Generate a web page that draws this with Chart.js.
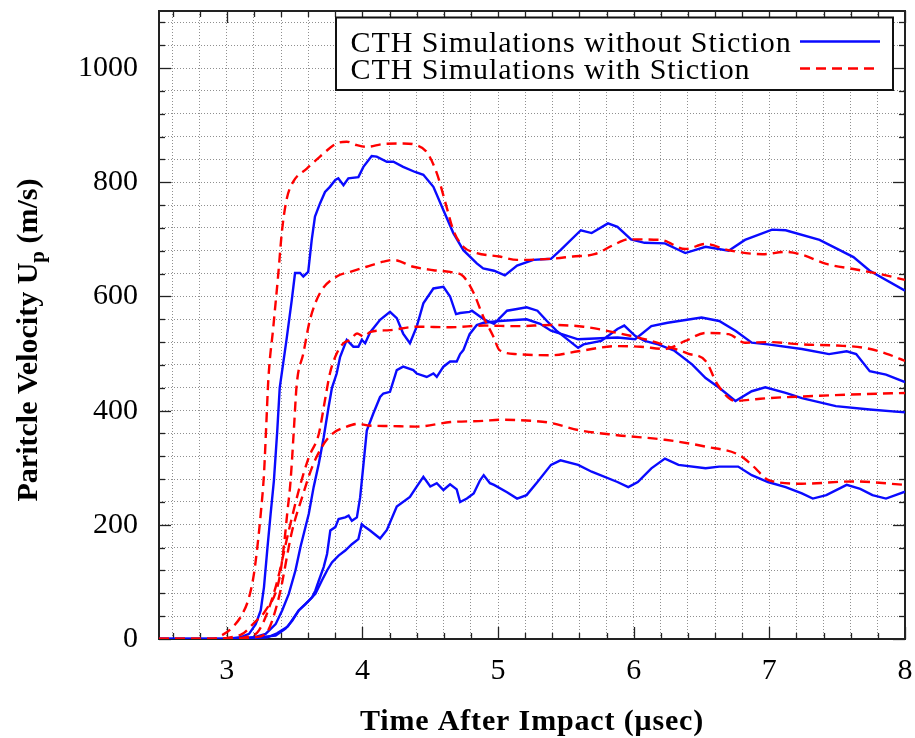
<!DOCTYPE html>
<html>
<head>
<meta charset="utf-8">
<title>Particle velocity after impact</title>
<script src="https://cdn.jsdelivr.net/npm/chart.js@4.4.1/dist/chart.umd.min.js"></script>
<style>
  html, body { margin: 0; padding: 0; background: #fff; }
  #wrap { position: relative; width: 915px; height: 738px; }
</style>
</head>
<body>
<div id="wrap"><canvas id="chart"></canvas></div>
<script>
// [time (usec), particle velocity (m/s)]
var withStiction1 = [[2.5,0],[2.9,0],[2.96,6],[3.04,20],[3.115,44],[3.164,73],[3.2,114],[3.225,161],[3.25,219],[3.274,289],
  [3.29,370],[3.306,454],[3.343,547],[3.38,641],[3.405,711],[3.44,769],[3.49,801],[3.59,824],[3.687,845],[3.81,868],
  [3.884,871],[3.96,865],[4.03,862],[4.154,867],[4.3,868],[4.4,865],[4.474,853],[4.548,816],[4.62,757],[4.67,716],
  [4.744,687],[4.843,676],[5.01,670],[5.14,664],[5.39,666],[5.55,670],[5.71,674],[5.85,690],[5.96,700],[6.2,699],
  [6.38,683],[6.53,692],[6.7,681],[6.95,674],[7.12,678],[7.24,673],[7.42,657],[7.62,648],[7.8,640],[8.0,629]];
var withStiction2 = [[2.5,0],[2.95,0],[3.0,2],[3.115,9],[3.2,28],[3.286,50],[3.384,102],[3.42,161],[3.445,219],[3.47,277],
  [3.494,365],[3.515,445],[3.564,500],[3.613,559],[3.687,606],[3.81,635],[3.91,643],[4.03,652],[4.154,661],[4.228,664],
  [4.375,652],[4.523,646],[4.646,643],[4.744,635],[4.82,606],[4.89,565],[4.965,530],[5.01,506],[5.14,499],[5.39,497],
  [5.59,504],[5.88,513],[6.05,512],[6.23,508],[6.38,522],[6.53,536],[6.7,534],[6.82,519],[7.0,520],[7.24,516],
  [7.5,514],[7.7,510],[7.86,500],[8.0,487]];
var withStiction3 = [[2.5,0],[3.0,0],[3.15,4],[3.237,15],[3.36,91],[3.457,190],[3.53,260],[3.604,318],[3.678,359],[3.727,423],
  [3.76,465],[3.81,500],[3.86,518],[3.91,524],[3.96,535],[4.01,530],[4.06,538],[4.2,541],[4.4,547],[4.65,546],
  [4.9,549],[5.14,548],[5.39,550],[5.63,547],[5.88,536],[6.13,522],[6.28,510],[6.4,500],[6.53,487],[6.62,445],
  [6.75,417],[6.9,420],[7.0,422],[7.37,426],[7.7,429],[8.0,431]];
var withStiction4 = [[2.5,0],[3.0,0],[3.2,3],[3.286,9],[3.384,73],[3.482,190],[3.555,248],[3.629,301],[3.7,336],[3.775,359],
  [3.873,371],[3.97,377],[4.04,374],[4.2,373],[4.4,372],[4.65,380],[4.89,382],[5.01,384],[5.26,382],[5.4,378],
  [5.59,366],[5.88,357],[6.23,349],[6.53,337],[6.78,322],[6.87,305],[7.0,278],[7.24,272],[7.62,276],[8.0,270]];

var noStiction1 = [[2.5,0],[3.0,0],[3.1,3],[3.164,9],[3.213,26],[3.25,50],[3.274,91],[3.3,161],[3.323,219],[3.347,277],
  [3.372,365],[3.39,440],[3.44,524],[3.479,594],[3.503,641],[3.54,641],[3.564,635],[3.6,643],[3.626,699],[3.65,740],
  [3.687,763],[3.724,783],[3.76,792],[3.8,804],[3.822,807],[3.86,795],[3.896,807],[3.97,809],[4.007,827],[4.068,846],
  [4.105,845],[4.18,836],[4.228,836],[4.3,827],[4.388,818],[4.449,813],[4.523,792],[4.597,751],[4.67,711],[4.744,681],
  [4.843,658],[4.89,649],[4.97,645],[5.05,637],[5.14,654],[5.26,664],[5.39,666],[5.46,681],[5.61,716],[5.69,711],
  [5.81,728],[5.88,722],[5.98,700],[6.08,694],[6.23,693],[6.38,676],[6.53,687],[6.7,680],[6.82,699],[7.02,717],
  [7.12,716],[7.37,699],[7.62,669],[7.74,645],[8.0,610]];
var noStiction2 = [[2.5,0],[3.0,0],[3.2,3],[3.286,9],[3.36,26],[3.408,50],[3.457,79],[3.506,120],[3.543,161],[3.567,184],
  [3.604,219],[3.64,266],[3.678,307],[3.714,353],[3.75,406],[3.775,440],[3.81,465],[3.835,494],[3.884,524],[3.933,512],
  [3.97,512],[3.995,524],[4.02,518],[4.056,537],[4.13,559],[4.203,573],[4.253,562],[4.3,535],[4.35,518],[4.4,547],
  [4.449,588],[4.523,614],[4.597,617],[4.646,600],[4.69,569],[4.72,571],[4.79,573],[4.807,575],[4.894,560],[4.97,552],
  [5.066,575],[5.14,578],[5.21,581],[5.29,575],[5.36,557],[5.43,540],[5.59,510],[5.63,516],[5.76,522],[5.88,543],
  [5.93,549],[6.01,531],[6.08,522],[6.18,516],[6.3,505],[6.43,481],[6.53,457],[6.63,440],[6.75,417],[6.87,434],
  [6.97,441],[7.12,431],[7.24,422],[7.49,408],[7.74,402],[8.0,397]];
var noStiction3 = [[2.5,0],[3.1,0],[3.36,6],[3.433,18],[3.482,32],[3.53,50],[3.58,61],[3.629,73],[3.653,85],[3.678,102],
  [3.714,126],[3.739,149],[3.763,190],[3.8,196],[3.824,210],[3.873,213],[3.898,216],[3.922,207],[3.959,213],[3.983,248],
  [4.008,307],[4.032,365],[4.08,395],[4.13,424],[4.154,430],[4.203,433],[4.253,471],[4.3,477],[4.375,471],[4.4,465],
  [4.474,459],[4.523,465],[4.548,459],[4.597,477],[4.646,486],[4.695,486],[4.72,499],[4.744,506],[4.79,534],[4.843,550],
  [4.894,554],[5.01,557],[5.21,560],[5.31,552],[5.39,540],[5.59,525],[5.88,528],[6.01,525],[6.13,548],[6.25,554],
  [6.5,563],[6.63,557],[6.75,540],[6.87,519],[6.99,516],[7.24,508],[7.44,499],[7.57,504],[7.64,499],[7.74,469],
  [7.86,463],[8.0,450]];
var noStiction4 = [[2.5,0],[3.1,0],[3.3,3],[3.37,10],[3.45,22],[3.53,50],[3.604,67],[3.653,79],[3.7,102],[3.739,120],
  [3.775,134],[3.824,146],[3.873,155],[3.922,166],[3.97,175],[3.995,201],[4.02,196],[4.056,190],[4.13,176],[4.18,191],
  [4.253,232],[4.35,249],[4.4,267],[4.449,284],[4.5,267],[4.548,273],[4.597,261],[4.646,271],[4.695,262],[4.72,240],
  [4.77,246],[4.82,255],[4.867,278],[4.894,287],[4.94,273],[4.97,270],[5.066,257],[5.14,246],[5.21,252],[5.29,275],
  [5.39,305],[5.46,313],[5.59,305],[5.69,293],[5.88,275],[5.96,266],[6.03,275],[6.13,299],[6.23,316],[6.33,305],
  [6.53,299],[6.63,302],[6.77,302],[6.87,287],[6.99,275],[7.12,266],[7.24,255],[7.32,246],[7.42,252],[7.57,270],
  [7.67,263],[7.76,252],[7.86,246],[8.0,258]];

var seriesLabels = ["CTH Simulations without Stiction", "CTH Simulations with Stiction"];
var xTickLabels = [3, 4, 5, 6, 7, 8];
var yTickLabels = [0, 200, 400, 600, 800, 1000];
var xRange = [2.5, 8], yRange = [0, 1100];
var xMinorStep = 0.2, yMinorStep = 40;

var BLUE = "#0a0aff", RED = "#ff0000";
var SERIF = '"Liberation Serif", "Times New Roman", serif';

function pts(arr) {
  return arr.map(function (p) { return { x: p[0], y: p[1] }; });
}

// minor grid positions (every 0.2 us, every 40 m/s)
var xGrid = [], yGrid = [];
for (var i = Math.ceil(xRange[0] / xMinorStep + 0.01); i * xMinorStep <= xRange[1] + 1e-9; i++) {
  xGrid.push(+(i * xMinorStep).toFixed(1));
}
for (var j = 0; j * yMinorStep < yRange[1]; j++) yGrid.push(j * yMinorStep);

function redSet(arr) {
  return {
    data: pts(arr), borderColor: RED, borderWidth: 2.4, borderDash: [10, 6],
    pointRadius: 0, cubicInterpolationMode: "monotone", fill: false
  };
}
function blueSet(arr) {
  return {
    data: pts(arr), borderColor: BLUE, borderWidth: 2.4,
    pointRadius: 0, tension: 0, fill: false
  };
}

// frame plus gnuplot style inward ticks on all four sides
var framePlugin = {
  id: "frame",
  beforeDatasetsDraw: function (chart) {
    var ctx = chart.ctx, a = chart.chartArea, xs = chart.scales.x, ys = chart.scales.y;
    function seg(x1, y1, x2, y2) { ctx.beginPath(); ctx.moveTo(x1, y1); ctx.lineTo(x2, y2); ctx.stroke(); }
    ctx.save();
    ctx.strokeStyle = "#222";
    ctx.lineWidth = 1.3;
    xs.ticks.forEach(function (t) {
      var px = Math.round(xs.getPixelForValue(t.value)) + 0.5;
      var len = xTickLabels.indexOf(t.value) >= 0 ? 12 : 6;
      seg(px, a.bottom, px, a.bottom - len);
      seg(px, a.top, px, a.top + len);
    });
    ys.ticks.forEach(function (t) {
      var py = Math.round(ys.getPixelForValue(t.value)) + 0.5;
      var len = yTickLabels.indexOf(t.value) >= 0 ? 12 : 6;
      seg(a.left, py, a.left + len, py);
      seg(a.right, py, a.right - len, py);
    });
    ctx.lineWidth = 2;
    ctx.strokeRect(a.left, a.top, a.right - a.left, a.bottom - a.top);
    ctx.restore();
  }
};

// boxed key in the top right corner and the two axis titles
var decorPlugin = {
  id: "decor",
  afterDraw: function (chart) {
    var ctx = chart.ctx, a = chart.chartArea;
    ctx.save();
    var bw = 557, bh = 72.5;
    var bx = a.right - 12 - bw, by = a.top + 6.5;
    ctx.fillStyle = "#fff";
    ctx.fillRect(bx, by, bw, bh);
    ctx.strokeStyle = "#111";
    ctx.lineWidth = 2;
    ctx.strokeRect(bx, by, bw, bh);

    ctx.fillStyle = "#000";
    ctx.font = "30px " + SERIF;
    ctx.letterSpacing = "0.95px";
    ctx.textAlign = "left";
    ctx.textBaseline = "alphabetic";
    ctx.fillText(seriesLabels[0], bx + 14.5, by + 34);
    ctx.fillText(seriesLabels[1], bx + 14.5, by + 61);

    ctx.lineWidth = 2.4;
    ctx.strokeStyle = BLUE;
    ctx.beginPath(); ctx.moveTo(bx + bw - 93, by + 24); ctx.lineTo(bx + bw - 13, by + 24); ctx.stroke();
    ctx.strokeStyle = RED;
    ctx.setLineDash([10, 6]);
    ctx.beginPath(); ctx.moveTo(bx + bw - 93, by + 51); ctx.lineTo(bx + bw - 13, by + 51); ctx.stroke();
    ctx.setLineDash([]);

    // x title
    ctx.font = "bold 30px " + SERIF;
    ctx.letterSpacing = "0.85px";
    ctx.textAlign = "center";
    ctx.fillText("Time After Impact (\u03bcsec)", (a.left + a.right) / 2, 730);

    // y title with subscript p
    ctx.letterSpacing = "0px";
    var big = "bold 30px " + SERIF, small = "bold 21px " + SERIF;
    var p1 = "Paritcle Velocity U", p2 = "p", p3 = " (m/s)";
    ctx.font = big; var w1 = ctx.measureText(p1).width, w3 = ctx.measureText(p3).width;
    ctx.font = small; var w2 = ctx.measureText(p2).width;
    var total = w1 + w2 + w3;
    ctx.translate(37, 340);
    ctx.rotate(-Math.PI / 2);
    ctx.textAlign = "left";
    var sx = -total / 2;
    ctx.font = big; ctx.fillText(p1, sx, 0);
    ctx.font = small; ctx.fillText(p2, sx + w1, 7);
    ctx.font = big; ctx.fillText(p3, sx + w1 + w2, 0);
    ctx.restore();
  }
};

new Chart(document.getElementById("chart"), {
  type: "line",
  data: {
    datasets: [
      redSet(withStiction1), redSet(withStiction2), redSet(withStiction3), redSet(withStiction4),
      blueSet(noStiction1), blueSet(noStiction2), blueSet(noStiction3), blueSet(noStiction4)
    ]
  },
  options: {
    responsive: true,
    maintainAspectRatio: false,
    animation: false,
    devicePixelRatio: 1,
    layout: { padding: { top: 11, right: 10, left: 0, bottom: 0 } },
    plugins: { legend: { display: false }, tooltip: { enabled: false } },
    scales: {
      x: {
        type: "linear",
        min: xRange[0],
        max: xRange[1],
        afterBuildTicks: function (scale) {
          scale.ticks = xGrid.map(function (v) { return { value: v }; });
        },
        afterFit: function (scale) {
          scale.height = 99;
          scale.paddingLeft = 0; scale.paddingRight = 0;
        },
        ticks: {
          autoSkip: false,
          maxRotation: 0,
          padding: 14,
          color: "#000",
          font: { family: SERIF, size: 30 },
          callback: function (v) { return xTickLabels.indexOf(v) >= 0 ? String(v) : ""; }
        },
        grid: { color: "#8f8f8f", lineWidth: 1, drawTicks: false },
        border: { display: false, dash: [1, 2] }
      },
      y: {
        type: "linear",
        min: yRange[0],
        max: yRange[1],
        afterBuildTicks: function (scale) {
          scale.ticks = yGrid.map(function (v) { return { value: v }; });
        },
        afterFit: function (scale) {
          scale.width = 159;
          scale.paddingTop = 0; scale.paddingBottom = 0;
        },
        ticks: {
          autoSkip: false,
          padding: 21,
          color: "#000",
          font: { family: SERIF, size: 30 },
          callback: function (v) { return yTickLabels.indexOf(v) >= 0 ? String(v) : ""; }
        },
        grid: { color: "#8f8f8f", lineWidth: 1, drawTicks: false },
        border: { display: false, dash: [1, 2] }
      }
    }
  },
  plugins: [framePlugin, decorPlugin]
});
</script>
</body>
</html>
